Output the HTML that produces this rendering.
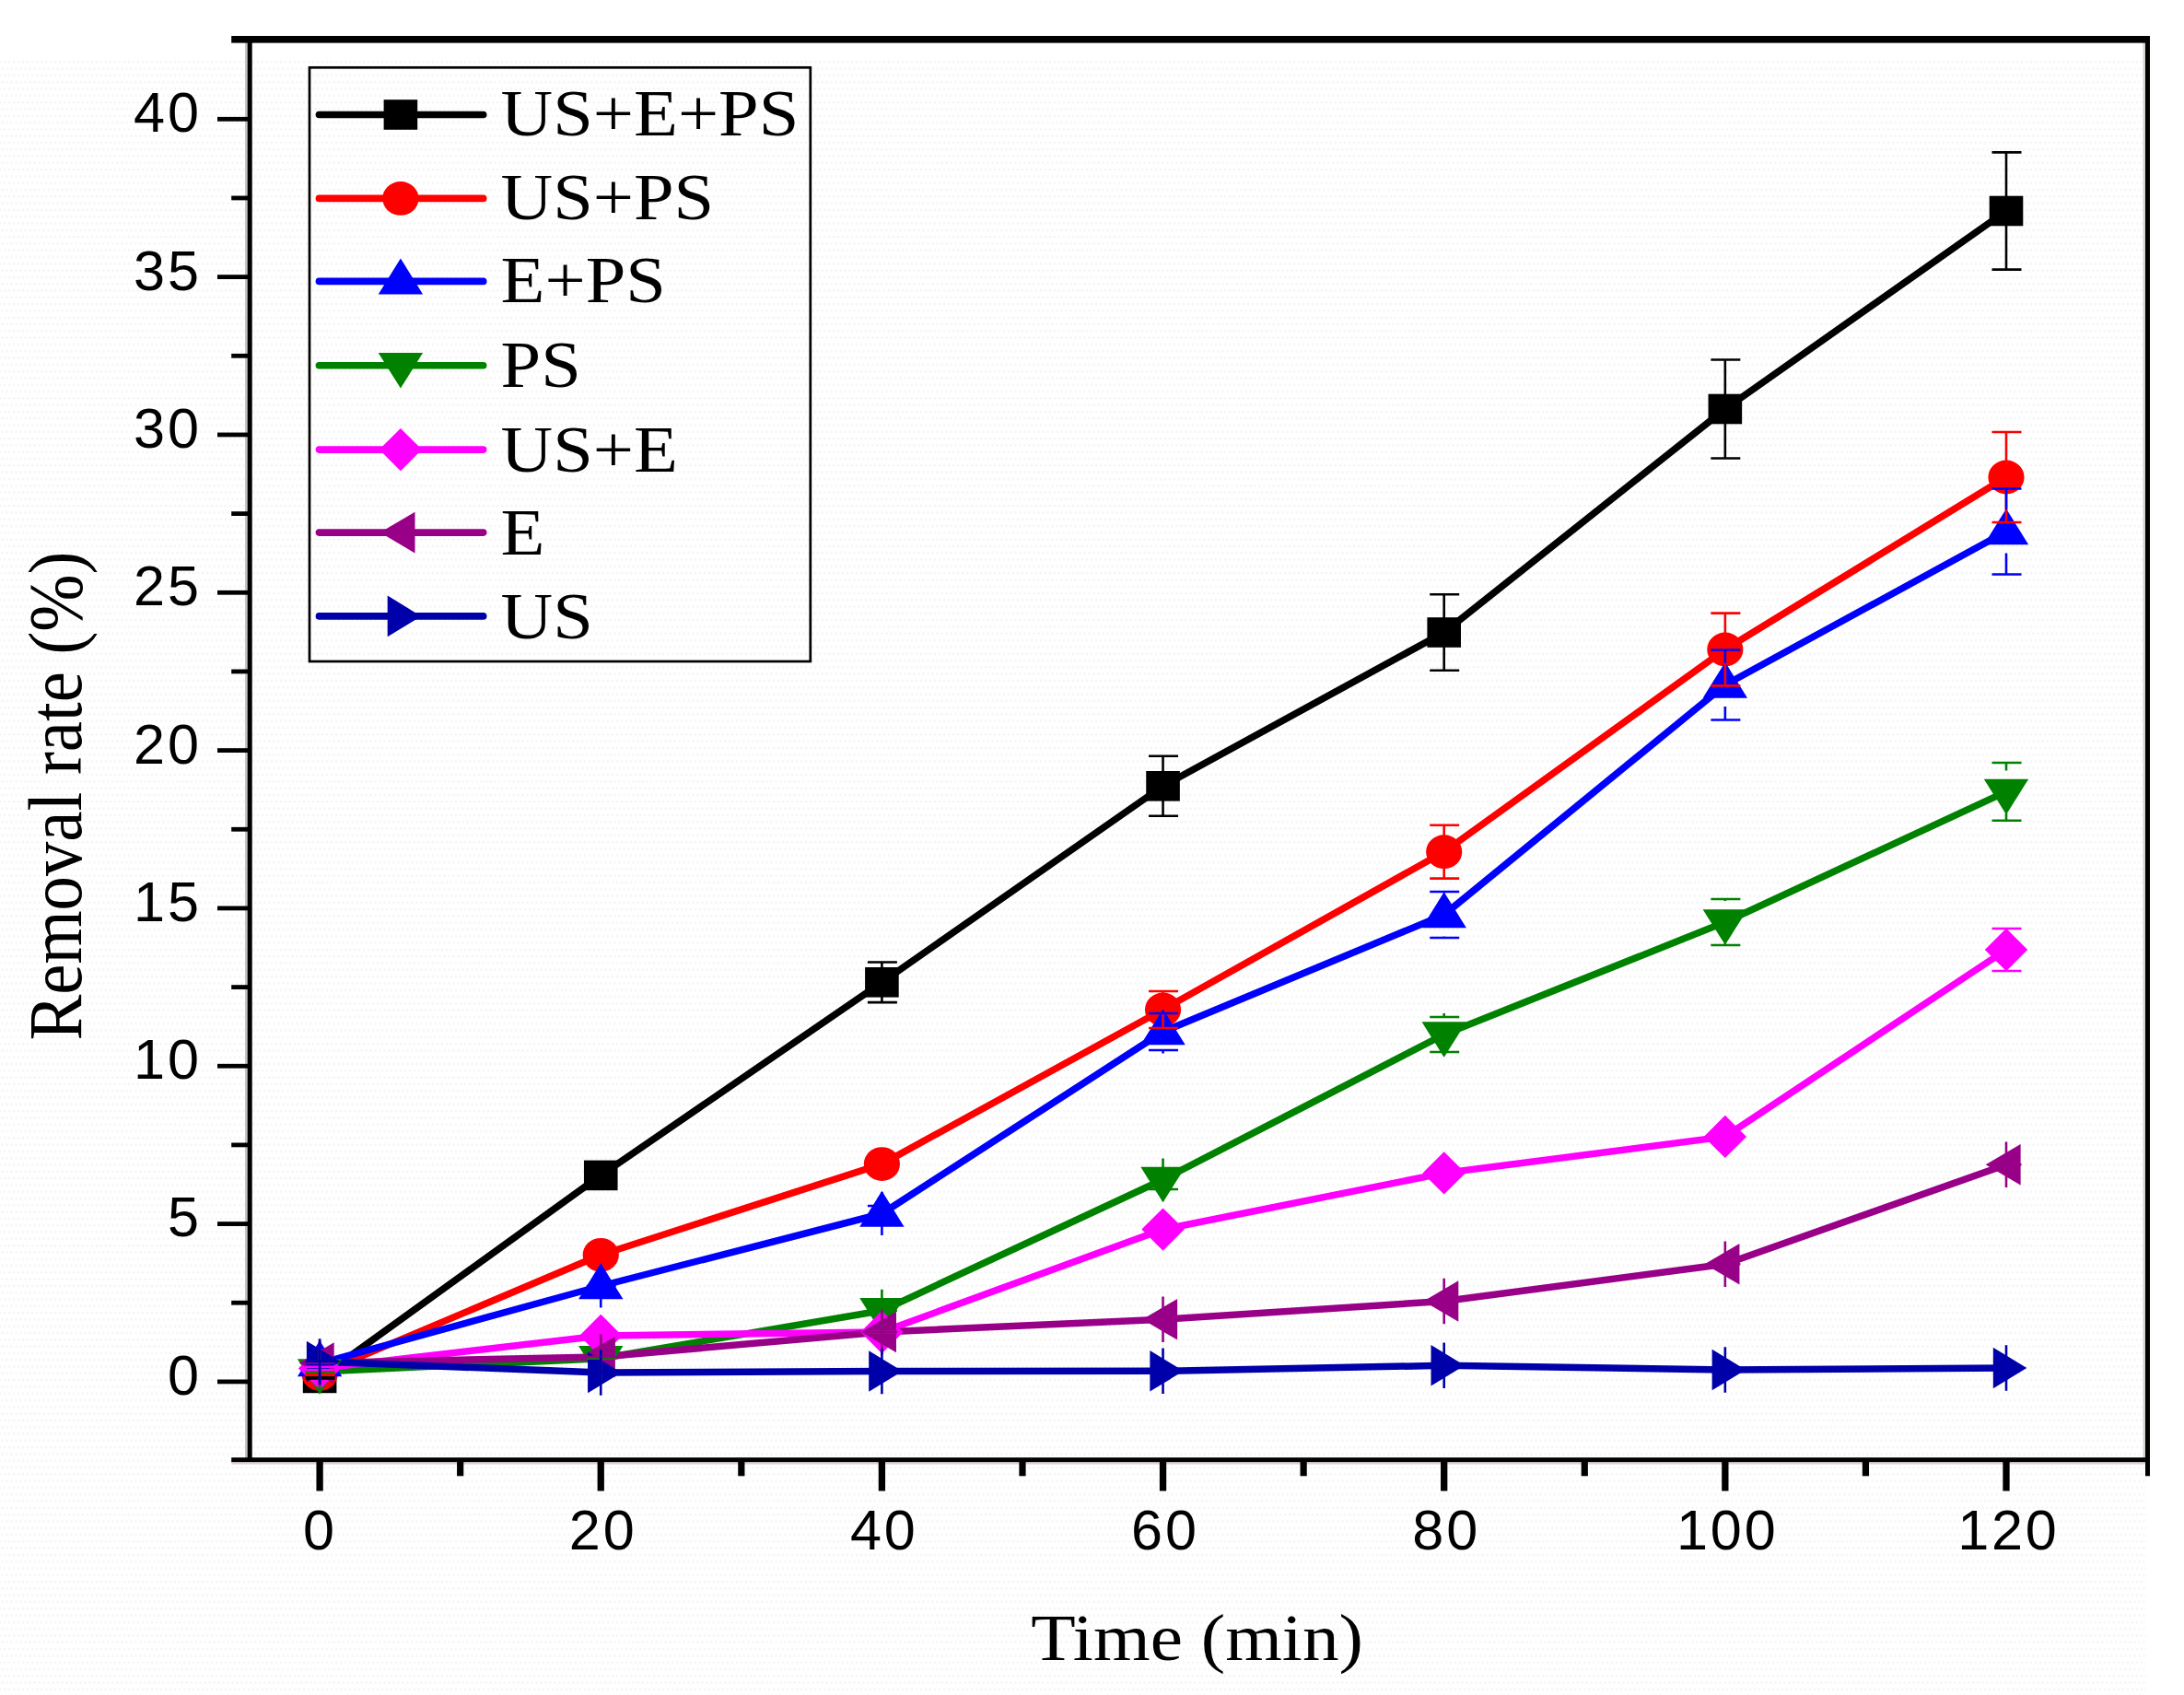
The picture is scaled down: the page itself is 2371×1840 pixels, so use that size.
<!DOCTYPE html>
<html lang="en"><head><meta charset="utf-8"><title>Removal rate vs time</title>
<style>html,body{margin:0;padding:0;background:#fff}body{width:2371px;height:1840px;overflow:hidden}svg{display:block}.sans{font-family:"Liberation Sans",Arial,Helvetica,sans-serif}.serif{font-family:"Liberation Serif","Times New Roman",Times,serif}</style></head><body>
<svg width="2371" height="1840" viewBox="0 0 2371 1840">
<rect x="0" y="0" width="2371" height="1840" fill="#ffffff"/>
<defs><pattern id="dp" width="5" height="14.6" patternUnits="userSpaceOnUse"><circle cx="2.5" cy="1.6" r="1.35" fill="#f5f5f5"/><circle cx="0" cy="8.9" r="1.35" fill="#f5f5f5"/><circle cx="5" cy="8.9" r="1.35" fill="#f5f5f5"/></pattern></defs>
<rect x="0" y="62" width="2330" height="1778" fill="url(#dp)"/>
<g fill="#000">
<rect x="266" y="46" width="2.9" height="1537" fill="#c4c4c4"/>
<rect x="2326.5" y="46" width="2.7" height="1537" fill="#d4d4cc"/>
<rect x="251.2" y="1587" width="2082.8" height="2.6" fill="#dcd0d0"/>
<rect x="251.2" y="39" width="2082.8" height="7.6"/>
<rect x="251.2" y="1582.2" width="2082.8" height="4.9"/>
<rect x="268.7" y="42" width="5" height="1544"/>
<rect x="2329" y="42" width="5" height="1560.3"/>
<rect x="343.45" y="1585" width="7.3" height="33.5"/>
<rect x="648.6" y="1585" width="7.3" height="33.5"/>
<rect x="953.75" y="1585" width="7.3" height="33.5"/>
<rect x="1258.9" y="1585" width="7.3" height="33.5"/>
<rect x="1564.05" y="1585" width="7.3" height="33.5"/>
<rect x="1869.2" y="1585" width="7.3" height="33.5"/>
<rect x="2174.35" y="1585" width="7.3" height="33.5"/>
<rect x="496.07" y="1585" width="7.2" height="17.3"/>
<rect x="801.23" y="1585" width="7.2" height="17.3"/>
<rect x="1106.38" y="1585" width="7.2" height="17.3"/>
<rect x="1411.53" y="1585" width="7.2" height="17.3"/>
<rect x="1716.67" y="1585" width="7.2" height="17.3"/>
<rect x="2021.83" y="1585" width="7.2" height="17.3"/>
<rect x="236" y="1497.5" width="34" height="4.8"/>
<rect x="236" y="1326.17" width="34" height="4.8"/>
<rect x="236" y="1154.85" width="34" height="4.8"/>
<rect x="236" y="983.53" width="34" height="4.8"/>
<rect x="236" y="812.2" width="34" height="4.8"/>
<rect x="236" y="640.88" width="34" height="4.8"/>
<rect x="236" y="469.55" width="34" height="4.8"/>
<rect x="236" y="298.23" width="34" height="4.8"/>
<rect x="236" y="126.9" width="34" height="4.8"/>
<rect x="251.2" y="1411.84" width="19" height="4.8"/>
<rect x="251.2" y="1240.51" width="19" height="4.8"/>
<rect x="251.2" y="1069.19" width="19" height="4.8"/>
<rect x="251.2" y="897.86" width="19" height="4.8"/>
<rect x="251.2" y="726.54" width="19" height="4.8"/>
<rect x="251.2" y="555.21" width="19" height="4.8"/>
<rect x="251.2" y="383.89" width="19" height="4.8"/>
<rect x="251.2" y="212.56" width="19" height="4.8"/>
</g>
<g class="sans" font-size="60.6" letter-spacing="2.8" fill="#000">
<text transform="translate(347.52,1682.1) scale(1.01,1)" text-anchor="middle">0</text>
<text transform="translate(654.67,1682.1) scale(1.01,1)" text-anchor="middle">20</text>
<text transform="translate(959.82,1682.1) scale(1.01,1)" text-anchor="middle">40</text>
<text transform="translate(1264.97,1682.1) scale(1.01,1)" text-anchor="middle">60</text>
<text transform="translate(1570.12,1682.1) scale(1.01,1)" text-anchor="middle">80</text>
<text transform="translate(1875.27,1682.1) scale(1.01,1)" text-anchor="middle">100</text>
<text transform="translate(2180.42,1682.1) scale(1.01,1)" text-anchor="middle">120</text>
<text transform="translate(218.84,1513.8) scale(1.01,1)" text-anchor="end">0</text>
<text transform="translate(218.84,1342.48) scale(1.01,1)" text-anchor="end">5</text>
<text transform="translate(218.84,1171.15) scale(1.01,1)" text-anchor="end">10</text>
<text transform="translate(218.84,999.83) scale(1.01,1)" text-anchor="end">15</text>
<text transform="translate(218.84,828.5) scale(1.01,1)" text-anchor="end">20</text>
<text transform="translate(218.84,657.18) scale(1.01,1)" text-anchor="end">25</text>
<text transform="translate(218.84,485.85) scale(1.01,1)" text-anchor="end">30</text>
<text transform="translate(218.84,314.52) scale(1.01,1)" text-anchor="end">35</text>
<text transform="translate(218.84,143.2) scale(1.01,1)" text-anchor="end">40</text>
</g>
<g class="serif" fill="#000">
<text transform="translate(1299.6,1802.2) scale(1.118,1)" font-size="71" text-anchor="middle">Time (min)</text>
<text transform="translate(88,864) rotate(-90) scale(1,1.10)" font-size="74.7" text-anchor="middle">Removal rate (%)</text>
</g>
<g fill="none" stroke-width="7.5" stroke-linejoin="round" stroke-linecap="butt">
<polyline points="347.1,1495.9 652.25,1275.9 957.4,1066.3 1262.55,853.3 1567.7,686.5 1872.85,444 2178,229" stroke="#000000"/>
<polyline points="347.1,1491.4 652.25,1362.3 957.4,1263.6 1262.55,1096 1567.7,924.7 1872.85,705 2178,518" stroke="#ff0000"/>
<polyline points="347.1,1480 652.25,1396 957.4,1317.5 1262.55,1120 1567.7,993 1872.85,743.5 2178,577" stroke="#0000ff"/>
<polyline points="347.1,1488.9 652.25,1474.7 957.4,1422.8 1262.55,1280.5 1567.7,1123 1872.85,1001 2178,859.4" stroke="#008200"/>
<polyline points="347.1,1485.4 652.25,1450 957.4,1446 1262.55,1334.6 1567.7,1273.4 1872.85,1233.9 2178,1031" stroke="#ff00ff"/>
<polyline points="347.1,1479.5 652.25,1473 957.4,1446 1262.55,1432.3 1567.7,1412.5 1872.85,1372.3 2178,1264.3" stroke="#990088"/>
<polyline points="347.1,1478 652.25,1490 957.4,1488.5 1262.55,1488.3 1567.7,1482.3 1872.85,1487 2178,1485" stroke="#0000aa"/>
</g>
<g>
<rect x="328.8" y="1479.6" width="36.6" height="32.6" fill="#000000"/>
<rect x="633.95" y="1259.6" width="36.6" height="32.6" fill="#000000"/>
<rect x="939.1" y="1050" width="36.6" height="32.6" fill="#000000"/>
<rect x="1244.25" y="837" width="36.6" height="32.6" fill="#000000"/>
<rect x="1549.4" y="670.2" width="36.6" height="32.6" fill="#000000"/>
<rect x="1854.55" y="427.7" width="36.6" height="32.6" fill="#000000"/>
<rect x="2159.7" y="212.7" width="36.6" height="32.6" fill="#000000"/>
<ellipse cx="347.1" cy="1491.4" rx="19.6" ry="18.4" fill="#ff0000"/>
<ellipse cx="652.25" cy="1362.3" rx="19.6" ry="18.4" fill="#ff0000"/>
<ellipse cx="957.4" cy="1263.6" rx="19.6" ry="18.4" fill="#ff0000"/>
<ellipse cx="1262.55" cy="1096" rx="19.6" ry="18.4" fill="#ff0000"/>
<ellipse cx="1567.7" cy="924.7" rx="19.6" ry="18.4" fill="#ff0000"/>
<ellipse cx="1872.85" cy="705" rx="19.6" ry="18.4" fill="#ff0000"/>
<ellipse cx="2178" cy="518" rx="19.6" ry="18.4" fill="#ff0000"/>
<polygon points="347.1,1455.2 371.3,1494.2 322.9,1494.2" fill="#0000ff"/>
<polygon points="652.25,1371.2 676.45,1410.2 628.05,1410.2" fill="#0000ff"/>
<polygon points="957.4,1292.7 981.6,1331.7 933.2,1331.7" fill="#0000ff"/>
<polygon points="1262.55,1095.2 1286.75,1134.2 1238.35,1134.2" fill="#0000ff"/>
<polygon points="1567.7,968.2 1591.9,1007.2 1543.5,1007.2" fill="#0000ff"/>
<polygon points="1872.85,718.7 1897.05,757.7 1848.65,757.7" fill="#0000ff"/>
<polygon points="2178,552.2 2202.2,591.2 2153.8,591.2" fill="#0000ff"/>
<polygon points="347.1,1513.7 371.3,1475.2 322.9,1475.2" fill="#008200"/>
<polygon points="652.25,1499.5 676.45,1461 628.05,1461" fill="#008200"/>
<polygon points="957.4,1447.6 981.6,1409.1 933.2,1409.1" fill="#008200"/>
<polygon points="1262.55,1305.3 1286.75,1266.8 1238.35,1266.8" fill="#008200"/>
<polygon points="1567.7,1147.8 1591.9,1109.3 1543.5,1109.3" fill="#008200"/>
<polygon points="1872.85,1025.8 1897.05,987.3 1848.65,987.3" fill="#008200"/>
<polygon points="2178,884.2 2202.2,845.7 2153.8,845.7" fill="#008200"/>
<polygon points="347.1,1462.2 370.3,1485.4 347.1,1508.6 323.9,1485.4" fill="#ff00ff"/>
<polygon points="652.25,1426.8 675.45,1450 652.25,1473.2 629.05,1450" fill="#ff00ff"/>
<polygon points="957.4,1422.8 980.6,1446 957.4,1469.2 934.2,1446" fill="#ff00ff"/>
<polygon points="1262.55,1311.4 1285.75,1334.6 1262.55,1357.8 1239.35,1334.6" fill="#ff00ff"/>
<polygon points="1567.7,1250.2 1590.9,1273.4 1567.7,1296.6 1544.5,1273.4" fill="#ff00ff"/>
<polygon points="1872.85,1210.7 1896.05,1233.9 1872.85,1257.1 1849.65,1233.9" fill="#ff00ff"/>
<polygon points="2178,1007.8 2201.2,1031 2178,1054.2 2154.8,1031" fill="#ff00ff"/>
<polygon points="324.8,1479.5 362.7,1457.2 362.7,1501.8" fill="#990088"/>
<polygon points="629.95,1473 667.85,1450.7 667.85,1495.3" fill="#990088"/>
<polygon points="935.1,1446 973,1423.7 973,1468.3" fill="#990088"/>
<polygon points="1240.25,1432.3 1278.15,1410 1278.15,1454.6" fill="#990088"/>
<polygon points="1545.4,1412.5 1583.3,1390.2 1583.3,1434.8" fill="#990088"/>
<polygon points="1850.55,1372.3 1888.45,1350 1888.45,1394.6" fill="#990088"/>
<polygon points="2155.7,1264.3 2193.6,1242 2193.6,1286.6" fill="#990088"/>
<polygon points="369.4,1478 332.9,1455.7 332.9,1500.3" fill="#0000aa"/>
<polygon points="674.55,1490 638.05,1467.7 638.05,1512.3" fill="#0000aa"/>
<polygon points="979.7,1488.5 943.2,1466.2 943.2,1510.8" fill="#0000aa"/>
<polygon points="1284.85,1488.3 1248.35,1466 1248.35,1510.6" fill="#0000aa"/>
<polygon points="1590,1482.3 1553.5,1460 1553.5,1504.6" fill="#0000aa"/>
<polygon points="1895.15,1487 1858.65,1464.7 1858.65,1509.3" fill="#0000aa"/>
<polygon points="2200.3,1485 2163.8,1462.7 2163.8,1507.3" fill="#0000aa"/>
</g>
<g fill="none" stroke-width="2.6">
<path d="M347.1 1495.3V1496.5M331.6 1495.3H363.6M331.6 1496.5H363.6M636.75 1275.9H668.75M957.4 1044.5V1088.1M941.9 1044.5H973.9M941.9 1088.1H973.9M1262.55 820.8V885.8M1247.05 820.8H1279.05M1247.05 885.8H1279.05M1567.7 645.3V727.7M1552.2 645.3H1584.2M1552.2 727.7H1584.2M1872.85 390.5V497.5M1857.35 390.5H1889.35M1857.35 497.5H1889.35M2178 165.4V292.6M2162.5 165.4H2194.5M2162.5 292.6H2194.5" stroke="#000000"/>
<path d="M347.1 1490.1V1492.7M331.6 1490.1H363.6M331.6 1492.7H363.6M636.75 1362.3H668.75M941.9 1263.6H973.9M1262.55 1076V1116M1247.05 1076H1279.05M1247.05 1116H1279.05M1567.7 895.8V953.6M1552.2 895.8H1584.2M1552.2 953.6H1584.2M1872.85 665.6V744.4M1857.35 665.6H1889.35M1857.35 744.4H1889.35M2178 469V567M2162.5 469H2194.5M2162.5 567H2194.5" stroke="#ff0000"/>
<path d="M347.1 1480V1456.5M347.1 1480V1503.5M331.6 1480H363.6M652.25 1396V1372.5M652.25 1396V1419.5M636.75 1396H668.75M957.4 1309V1294M957.4 1326V1341M941.9 1309H973.9M941.9 1326H973.9M1262.55 1100V1096.5M1262.55 1140V1143.5M1247.05 1100H1279.05M1247.05 1140H1279.05M1567.7 968V969.5M1567.7 1018V1016.5M1552.2 968H1584.2M1552.2 1018H1584.2M1872.85 705.5V720M1872.85 781.5V767M1857.35 705.5H1889.35M1857.35 781.5H1889.35M2178 530.5V553.5M2178 623.5V600.5M2162.5 530.5H2194.5M2162.5 623.5H2194.5" stroke="#0000ff"/>
<path d="M347.1 1488.5V1465.9M347.1 1489.3V1511.9M331.6 1488.5H363.6M331.6 1489.3H363.6M652.25 1474.7V1451.7M652.25 1474.7V1497.7M636.75 1474.7H668.75M957.4 1422.8V1399.8M957.4 1422.8V1445.8M941.9 1422.8H973.9M1262.55 1270V1257.5M1262.55 1291V1303.5M1247.05 1270H1279.05M1247.05 1291H1279.05M1567.7 1104V1100M1567.7 1142V1146M1552.2 1104H1584.2M1552.2 1142H1584.2M1872.85 976V978M1872.85 1026V1024M1857.35 976H1889.35M1857.35 1026H1889.35M2178 828V836.4M2178 890.8V882.4M2162.5 828H2194.5M2162.5 890.8H2194.5" stroke="#008200"/>
<path d="M347.1 1483.7V1487.1M331.6 1483.7H363.6M331.6 1487.1H363.6M636.75 1450H668.75M941.9 1446H973.9M1247.05 1334.6H1279.05M1552.2 1273.4H1584.2M1857.35 1233.9H1889.35M2178 1008V1054M2162.5 1008H2194.5M2162.5 1054H2194.5" stroke="#ff00ff"/>
<path d="M347.1 1479.5V1454.7M347.1 1479.5V1504.3M331.6 1479.5H363.6M652.25 1473V1448.2M652.25 1473V1497.8M636.75 1473H668.75M957.4 1446V1421.2M957.4 1446V1470.8M941.9 1446H973.9M1262.55 1432.3V1407.5M1262.55 1432.3V1457.1M1247.05 1432.3H1279.05M1567.7 1412.5V1387.7M1567.7 1412.5V1437.3M1552.2 1412.5H1584.2M1872.85 1372.3V1347.5M1872.85 1372.3V1397.1M1857.35 1372.3H1889.35M2178 1264.3V1239.5M2178 1264.3V1289.1M2162.5 1264.3H2194.5" stroke="#990088"/>
<path d="M347.1 1478V1453.2M347.1 1478V1502.8M331.6 1478H363.6M652.25 1490V1465.2M652.25 1490V1514.8M636.75 1490H668.75M957.4 1488.5V1463.7M957.4 1488.5V1513.3M941.9 1488.5H973.9M1262.55 1488.3V1463.5M1262.55 1488.3V1513.1M1247.05 1488.3H1279.05M1567.7 1482.3V1457.5M1567.7 1482.3V1507.1M1552.2 1482.3H1584.2M1872.85 1487V1462.2M1872.85 1487V1511.8M1857.35 1487H1889.35M2178 1485V1460.2M2178 1485V1509.8M2162.5 1485H2194.5" stroke="#0000aa"/>
</g>
<rect x="336" y="73.3" width="543.8" height="644.7" fill="none" stroke="#000" stroke-width="2.7"/>
<g stroke-width="7.6" stroke-linecap="round">
<line x1="346.4" y1="124.5" x2="524.7" y2="124.5" stroke="#000000"/>
<line x1="346.4" y1="215.4" x2="524.7" y2="215.4" stroke="#ff0000"/>
<line x1="346.4" y1="305.4" x2="524.7" y2="305.4" stroke="#0000ff"/>
<line x1="346.4" y1="396.7" x2="524.7" y2="396.7" stroke="#008200"/>
<line x1="346.4" y1="488.1" x2="524.7" y2="488.1" stroke="#ff00ff"/>
<line x1="346.4" y1="578.1" x2="524.7" y2="578.1" stroke="#990088"/>
<line x1="346.4" y1="668.9" x2="524.7" y2="668.9" stroke="#0000aa"/>
</g>
<rect x="416.6" y="108.2" width="36.6" height="32.6" fill="#000000"/>
<ellipse cx="434.9" cy="215.4" rx="19.6" ry="18.4" fill="#ff0000"/>
<polygon points="434.9,280.6 459.1,319.6 410.7,319.6" fill="#0000ff"/>
<polygon points="434.9,421.5 459.1,383 410.7,383" fill="#008200"/>
<polygon points="434.9,464.9 458.1,488.1 434.9,511.3 411.7,488.1" fill="#ff00ff"/>
<polygon points="412.6,578.1 450.5,555.8 450.5,600.4" fill="#990088"/>
<polygon points="457.2,668.9 420.7,646.6 420.7,691.2" fill="#0000aa"/>
<g class="serif" font-size="71.4" fill="#000">
<text transform="translate(543.6,147.1) scale(1.098,1)">US+E+PS</text>
<text transform="translate(543.6,237.9) scale(1.098,1)">US+PS</text>
<text transform="translate(543.6,328.2) scale(1.098,1)">E+PS</text>
<text transform="translate(543.6,419.8) scale(1.098,1)">PS</text>
<text transform="translate(543.6,511.5) scale(1.098,1)">US+E</text>
<text transform="translate(543.6,601.7) scale(1.098,1)">E</text>
<text transform="translate(543.6,693.4) scale(1.098,1)">US</text>
</g>
</svg></body></html>
